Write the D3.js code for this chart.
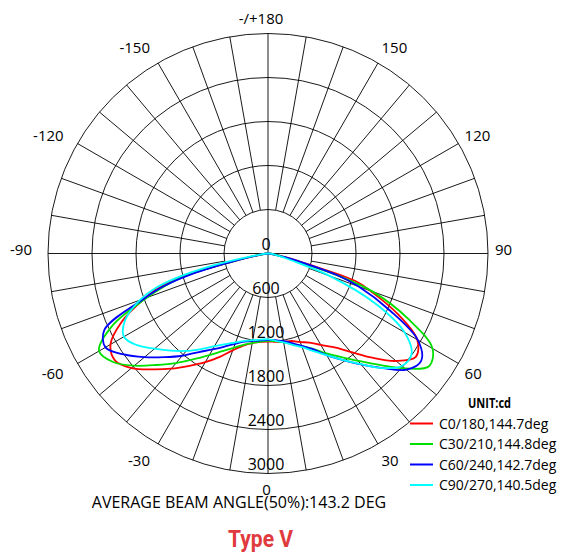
<!DOCTYPE html>
<html><head><meta charset="utf-8">
<script src="https://cdn.jsdelivr.net/npm/d3@7"></script>
<style>body{margin:0;background:#fff}svg{display:block}text{font-family:"Open Sans",sans-serif;fill:#000}</style>
</head><body>
<svg id="chart" width="569" height="559"></svg>
<script>
// ---- data ----
const angles = [-90,-85,-80,-77.5,-75,-72.5,-70,-65,-60,-55,-50,-45,-40,-35,-30,-25,-20,-15,-10,-5,0,5,10,15,20,25,30,35,40,45,50,55,60,65,70,72.5,75,77.5,80,85,90];
const c0  = [0,40,150,420,1150,1570,1790,2200,2480,2545,2430,2235,2050,1870,1710,1555,1405,1300,1240,1210,1200,1210,1225,1235,1285,1340,1440,1560,1750,2010,2280,2460,2350,1950,1480,1250,560,300,130,40,0];
const c30 = [0,40,150,450,1150,1480,1750,2350,2660,2580,2380,2150,1950,1760,1600,1470,1370,1290,1240,1205,1190,1200,1230,1280,1345,1430,1570,1720,1910,2150,2440,2680,2590,2110,1520,1000,400,220,120,40,0];
const c60 = [0,40,160,450,1050,1500,1800,2460,2560,2400,2200,2000,1820,1640,1510,1400,1310,1245,1210,1190,1180,1185,1215,1265,1340,1440,1600,1770,1975,2210,2465,2550,2360,1830,1310,1000,520,250,120,40,0];
const c90 = [0,50,250,800,1300,1650,1860,2150,2270,2180,2020,1875,1735,1590,1460,1365,1290,1235,1200,1180,1170,1195,1230,1290,1360,1470,1600,1770,1970,2210,2385,2390,2150,1620,900,450,250,150,90,30,0];
const seriesNames = ["C0/180,144.7deg","C30/210,144.8deg","C60/240,142.7deg","C90/270,140.5deg"];
const seriesColors = ["#ff0000","#00e000","#0000ff","#00ffff"];
const seriesValues = [c0, c30, c60, c90];
const ringValues = [600,1200,1800,2400,3000];
const ringLabels = ["0","600","1200","1800","2400","3000"];
const ringLabelValues = [0,600,1200,1800,2400,3000];
const angleTicks = [180,150,120,90,60,30,0,-30,-60,-90,-120,-150];
const angleTickLabels = ["-/+180","150","120","90","60","30","0","-30","-60","-90","-120","-150"];
const unitLabel = "UNIT:cd";
const beamText = "AVERAGE BEAM ANGLE(50%):143.2 DEG";
const titleText = "Type V";

// ---- layout ----
const cx = 268, cy = 253.5, R = 220;
const r = d3.scaleLinear().domain([0, 3000]).range([0, R]);
const toRad = a => (180 - a) * Math.PI / 180; // 0 deg = down, positive to the right

const svg = d3.select("#chart");
const g = svg.append("g").attr("transform", `translate(${cx},${cy})`);

// grid rings
g.selectAll("circle.ring").data(ringValues).enter().append("circle")
  .attr("class","ring").attr("r", d => r(d))
  .attr("fill","none").attr("stroke","#000").attr("stroke-width",0.9);

// radial spokes every 10 deg (outside the first ring)
const spokes = d3.range(-170, 180, 10).filter(a => a % 90 !== 0);
g.selectAll("line.spoke").data(spokes).enter().append("line")
  .attr("x1", a => r(600) * Math.sin(toRad(a)))
  .attr("y1", a => -r(600) * Math.cos(toRad(a)))
  .attr("x2", a => r(3000) * Math.sin(toRad(a)))
  .attr("y2", a => -r(3000) * Math.cos(toRad(a)))
  .attr("stroke","#000").attr("stroke-width",0.9);

// main axes
[0, 90].forEach(a => {
  g.append("line")
    .attr("x1", r(3000) * Math.sin(toRad(a))).attr("y1", -r(3000) * Math.cos(toRad(a)))
    .attr("x2", -r(3000) * Math.sin(toRad(a))).attr("y2", r(3000) * Math.cos(toRad(a)))
    .attr("stroke","#000").attr("stroke-width",0.9);
});

// curves
const line = d3.lineRadial()
  .angle(d => toRad(d[0]))
  .radius(d => r(d[1]))
  .curve(d3.curveCatmullRom.alpha(0.5));
seriesValues.forEach((vals, i) => {
  g.append("path")
    .datum(angles.map((a, k) => [a, vals[k]]))
    .attr("d", line)
    .attr("fill","none")
    .attr("stroke", seriesColors[i])
    .attr("stroke-width", 1.8)
    .attr("stroke-linejoin","round");
});

// ring value labels along the lower vertical axis
g.selectAll("text.rl").data(ringLabelValues).enter().append("text")
  .attr("class","rl")
  .attr("x", -2)
  .attr("y", d => r(d) - 4)
  .attr("text-anchor","middle")
  .style("font-size","16px")
  .text((d, i) => ringLabels[i]);

// angle labels
angleTicks.forEach((a, i) => {
  const ang = toRad(a);
  const s = Math.sin(ang), c = Math.cos(ang);
  let x, anchor, rad = 238;
  if (Math.abs(s) < 1e-6) { anchor = "middle"; x = a === 180 ? -7 : -1.5; rad = 235.5; }
  else if (s > 0) { anchor = "start"; x = 227 * s; }
  else { anchor = "end"; x = 236 * s; }
  const y = -rad * c + (Math.abs(a) === 90 ? -5 : 0);
  g.append("text")
    .attr("x", x).attr("y", y)
    .attr("text-anchor", anchor)
    .attr("dominant-baseline","central")
    .style("font-size","15px")
    .text(angleTickLabels[i]);
});

// legend
svg.append("text").attr("x",468).attr("y",408)
  .attr("textLength",43).attr("lengthAdjust","spacingAndGlyphs")
  .style("font-size","14px").style("font-weight","bold").text(unitLabel);
seriesNames.forEach((name, i) => {
  const y = 423.5 + i * 20.5;
  svg.append("line").attr("x1",410).attr("x2",433).attr("y1",y).attr("y2",y)
    .attr("stroke", seriesColors[i]).attr("stroke-width",2);
  svg.append("text").attr("x",439).attr("y",y + 5)
    .style("font-size","14px").text(name);
});

// footer texts
svg.append("text").attr("x",239).attr("y",508).attr("text-anchor","middle")
  .style("font-size","16px").text(beamText);
svg.append("text").attr("x",260.5).attr("y",547).attr("text-anchor","middle")
  .attr("textLength",65).attr("lengthAdjust","spacingAndGlyphs")
  .style("font-size","24px").style("font-weight","bold").style("fill","#e0393e")
  .style("font-family","Roboto, 'Open Sans', sans-serif")
  .text(titleText);
</script>
</body></html>
